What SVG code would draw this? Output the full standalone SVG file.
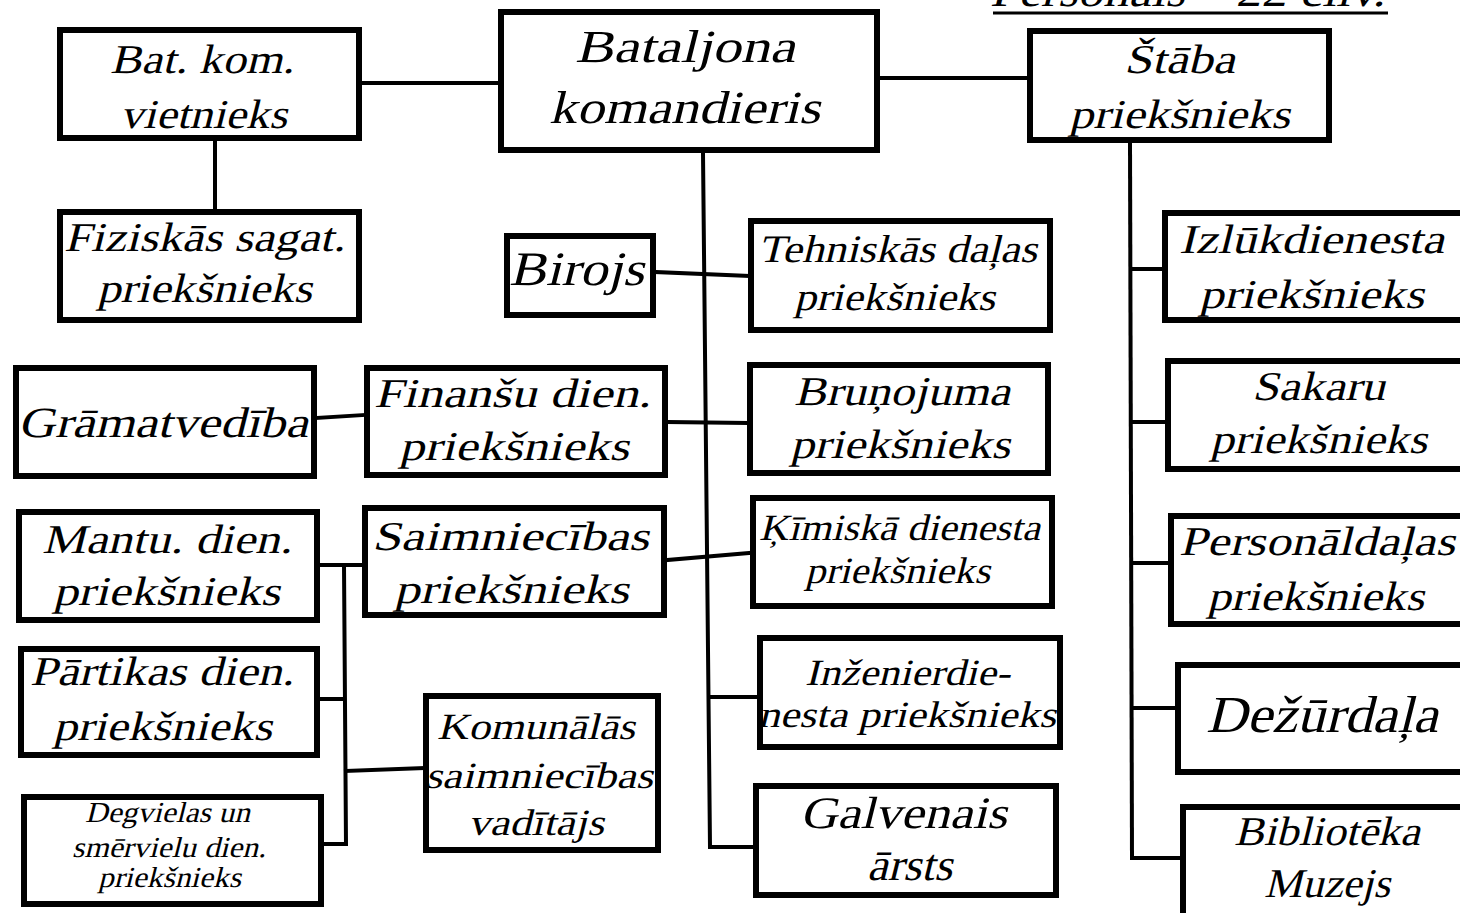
<svg xmlns="http://www.w3.org/2000/svg" width="1460" height="913" viewBox="0 0 1460 913">
<style>
.box{fill:#fff;stroke:#000;stroke-width:6;stroke-linejoin:miter}
.t{font-family:'Liberation Serif','DejaVu Serif',serif;font-style:normal;font-weight:normal;fill:#000;font-size:41px}
.c{fill:none;stroke:#000;stroke-width:4;stroke-linecap:square}
</style>
<rect width="1460" height="913" fill="#fff"/>
<g id="header">
<text class="t" x="990" y="6" transform="translate(1.5,0) skewX(-14.04)" textLength="395" lengthAdjust="spacingAndGlyphs" style="font-size:44px">Personāls – 22 cilv.</text>
<line x1="993" y1="13" x2="1388" y2="13" stroke="#000" stroke-width="3"/>
</g>
<g id="connectors">
<line class="c" x1="362" y1="83" x2="498" y2="83"/>
<line class="c" x1="880" y1="78" x2="1027" y2="78"/>
<line class="c" x1="215" y1="141" x2="215" y2="209"/>
<polyline class="c" points="703,153 708,650 710,847 753,847"/>
<line class="c" x1="710" y1="697" x2="757" y2="697"/>
<line class="c" x1="656" y1="272" x2="748" y2="276"/>
<line class="c" x1="668" y1="422" x2="747" y2="423"/>
<line class="c" x1="667" y1="560" x2="750" y2="553"/>
<line class="c" x1="317" y1="418" x2="364" y2="415"/>
<line class="c" x1="320" y1="565" x2="362" y2="565"/>
<polyline class="c" points="344,565 346,844 324,844"/>
<line class="c" x1="320" y1="699" x2="344" y2="699"/>
<line class="c" x1="346" y1="771" x2="423" y2="768"/>
<line class="c" x1="1130" y1="143" x2="1132" y2="858"/>
<line class="c" x1="1132" y1="269" x2="1162" y2="269"/>
<line class="c" x1="1132" y1="422" x2="1165" y2="422"/>
<line class="c" x1="1132" y1="563" x2="1168" y2="563"/>
<line class="c" x1="1132" y1="708" x2="1175" y2="708"/>
<line class="c" x1="1132" y1="858" x2="1180" y2="858"/>
</g>
<g id="batkom"><rect class="box" x="60" y="30" width="299" height="108"/>
<text class="t" x="110" y="73" transform="translate(18.25,0) skewX(-14.04)" textLength="184" lengthAdjust="spacingAndGlyphs">Bat. kom.</text>
<text class="t" x="120" y="128" transform="translate(32,0) skewX(-14.04)" textLength="167" lengthAdjust="spacingAndGlyphs">vietnieks</text></g>
<g id="batcmd"><rect class="box" x="501" y="12" width="376" height="138"/>
<text class="t" x="575" y="62" transform="translate(15.5,0) skewX(-14.04)" textLength="220" lengthAdjust="spacingAndGlyphs" style="font-size:46px">Bataljona</text>
<text class="t" x="549" y="123" transform="translate(30.75,0) skewX(-14.04)" textLength="271" lengthAdjust="spacingAndGlyphs" style="font-size:46px">komandieris</text></g>
<g id="staba"><rect class="box" x="1030" y="31" width="299" height="109"/>
<text class="t" x="1124" y="73" transform="translate(18.25,0) skewX(-14.04)" textLength="111" lengthAdjust="spacingAndGlyphs">Štāba</text>
<text class="t" x="1069" y="128" transform="translate(32,0) skewX(-14.04)" textLength="221" lengthAdjust="spacingAndGlyphs">priekšnieks</text></g>
<g id="fiz"><rect class="box" x="60" y="212" width="299" height="108"/>
<text class="t" x="64" y="251" transform="translate(62.75,0) skewX(-14.04)" textLength="281" lengthAdjust="spacingAndGlyphs">Fiziskās sagat.</text>
<text class="t" x="97" y="302" transform="translate(75.5,0) skewX(-14.04)" textLength="215" lengthAdjust="spacingAndGlyphs">priekšnieks</text></g>
<g id="birojs"><rect class="box" x="507" y="236" width="146" height="79"/>
<text class="t" x="509" y="285" transform="translate(71.25,0) skewX(-14.04)" textLength="135" lengthAdjust="spacingAndGlyphs" style="font-size:48px">Birojs</text></g>
<g id="tehn"><rect class="box" x="751" y="221" width="299" height="109"/>
<text class="t" x="758" y="262" transform="translate(65.5,0) skewX(-14.04)" textLength="279" lengthAdjust="spacingAndGlyphs" style="font-size:39px">Tehniskās daļas</text>
<text class="t" x="794" y="310" transform="translate(77.5,0) skewX(-14.04)" textLength="201" lengthAdjust="spacingAndGlyphs" style="font-size:39px">priekšnieks</text></g>
<g id="brun"><rect class="box" x="750" y="365" width="298" height="108"/>
<text class="t" x="794" y="405" transform="translate(101.25,0) skewX(-14.04)" textLength="216" lengthAdjust="spacingAndGlyphs">Bruņojuma</text>
<text class="t" x="790" y="458" transform="translate(114.5,0) skewX(-14.04)" textLength="220" lengthAdjust="spacingAndGlyphs">priekšnieks</text></g>
<g id="kim"><rect class="box" x="753" y="498" width="299" height="108"/>
<text class="t" x="759" y="540" transform="translate(135,0) skewX(-14.04)" textLength="281" lengthAdjust="spacingAndGlyphs" style="font-size:37px">Ķīmiskā dienesta</text>
<text class="t" x="805" y="583" transform="translate(145.75,0) skewX(-14.04)" textLength="185" lengthAdjust="spacingAndGlyphs" style="font-size:37px">priekšnieks</text></g>
<g id="inz"><rect class="box" x="760" y="638" width="300" height="109"/>
<text class="t" x="805" y="685" transform="translate(171.25,0) skewX(-14.04)" textLength="205" lengthAdjust="spacingAndGlyphs" style="font-size:37px">Inženierdie-</text>
<text class="t" x="758" y="727" transform="translate(181.75,0) skewX(-14.04)" textLength="298" lengthAdjust="spacingAndGlyphs" style="font-size:37px">nesta priekšnieks</text></g>
<g id="galv"><rect class="box" x="756" y="786" width="300" height="109"/>
<text class="t" x="800" y="828" transform="translate(207,0) skewX(-14.04)" textLength="207" lengthAdjust="spacingAndGlyphs" style="font-size:45px">Galvenais</text>
<text class="t" x="867" y="880" transform="translate(220,0) skewX(-14.04)" textLength="85" lengthAdjust="spacingAndGlyphs" style="font-size:45px">ārsts</text></g>
<g id="gram"><rect class="box" x="16" y="368" width="298" height="108"/>
<text class="t" x="18" y="437" transform="translate(109.25,0) skewX(-14.04)" textLength="290" lengthAdjust="spacingAndGlyphs" style="font-size:43px">Grāmatvedība</text></g>
<g id="fin"><rect class="box" x="367" y="368" width="298" height="107"/>
<text class="t" x="374" y="407" transform="translate(101.75,0) skewX(-14.04)" textLength="277" lengthAdjust="spacingAndGlyphs">Finanšu dien.</text>
<text class="t" x="399" y="460" transform="translate(115,0) skewX(-14.04)" textLength="230" lengthAdjust="spacingAndGlyphs">priekšnieks</text></g>
<g id="mantu"><rect class="box" x="19" y="512" width="298" height="108"/>
<text class="t" x="42" y="553" transform="translate(138.25,0) skewX(-14.04)" textLength="250" lengthAdjust="spacingAndGlyphs">Mantu. dien.</text>
<text class="t" x="53" y="605" transform="translate(151.25,0) skewX(-14.04)" textLength="227" lengthAdjust="spacingAndGlyphs">priekšnieks</text></g>
<g id="saim"><rect class="box" x="365" y="508" width="299" height="107"/>
<text class="t" x="372" y="550" transform="translate(137.5,0) skewX(-14.04)" textLength="277" lengthAdjust="spacingAndGlyphs">Saimniecības</text>
<text class="t" x="394" y="603" transform="translate(150.75,0) skewX(-14.04)" textLength="235" lengthAdjust="spacingAndGlyphs">priekšnieks</text></g>
<g id="part"><rect class="box" x="21" y="649" width="296" height="106"/>
<text class="t" x="30" y="685" transform="translate(171.25,0) skewX(-14.04)" textLength="264" lengthAdjust="spacingAndGlyphs">Pārtikas dien.</text>
<text class="t" x="53" y="740" transform="translate(185,0) skewX(-14.04)" textLength="219" lengthAdjust="spacingAndGlyphs">priekšnieks</text></g>
<g id="kom"><rect class="box" x="426" y="696" width="232" height="154"/>
<text class="t" x="437" y="739" transform="translate(184.75,0) skewX(-14.04)" textLength="198" lengthAdjust="spacingAndGlyphs" style="font-size:37px">Komunālās</text>
<text class="t" x="425" y="788" transform="translate(197,0) skewX(-14.04)" textLength="228" lengthAdjust="spacingAndGlyphs" style="font-size:37px">saimniecības</text>
<text class="t" x="468" y="835" transform="translate(208.75,0) skewX(-14.04)" textLength="136" lengthAdjust="spacingAndGlyphs" style="font-size:37px">vadītājs</text></g>
<g id="degv"><rect class="box" x="24" y="797" width="297" height="107"/>
<text class="t" x="85" y="822" transform="translate(205.5,0) skewX(-14.04)" textLength="165" lengthAdjust="spacingAndGlyphs" style="font-size:29px">Degvielas un</text>
<text class="t" x="72" y="857" transform="translate(214.25,0) skewX(-14.04)" textLength="194" lengthAdjust="spacingAndGlyphs" style="font-size:29px">smērvielu dien.</text>
<text class="t" x="98" y="887" transform="translate(221.75,0) skewX(-14.04)" textLength="143" lengthAdjust="spacingAndGlyphs" style="font-size:29px">priekšnieks</text></g>
<g id="izluk"><rect class="box" x="1165" y="213" width="310" height="107"/>
<text class="t" x="1179" y="253" transform="translate(63.25,0) skewX(-14.04)" textLength="265" lengthAdjust="spacingAndGlyphs">Izlūkdienesta</text>
<text class="t" x="1199" y="308" transform="translate(77,0) skewX(-14.04)" textLength="225" lengthAdjust="spacingAndGlyphs">priekšnieks</text></g>
<g id="sakaru"><rect class="box" x="1168" y="361" width="310" height="108"/>
<text class="t" x="1252" y="400" transform="translate(100,0) skewX(-14.04)" textLength="133" lengthAdjust="spacingAndGlyphs">Sakaru</text>
<text class="t" x="1210" y="453" transform="translate(113.25,0) skewX(-14.04)" textLength="217" lengthAdjust="spacingAndGlyphs">priekšnieks</text></g>
<g id="pers"><rect class="box" x="1171" y="516" width="310" height="108"/>
<text class="t" x="1179" y="555" transform="translate(138.75,0) skewX(-14.04)" textLength="276" lengthAdjust="spacingAndGlyphs">Personāldaļas</text>
<text class="t" x="1207" y="610" transform="translate(152.5,0) skewX(-14.04)" textLength="217" lengthAdjust="spacingAndGlyphs">priekšnieks</text></g>
<g id="dez"><rect class="box" x="1178" y="665" width="310" height="107"/>
<text class="t" x="1206" y="732" transform="translate(183,0) skewX(-14.04)" textLength="232" lengthAdjust="spacingAndGlyphs" style="font-size:52px">Dežūrdaļa</text></g>
<g id="bibl"><rect class="box" x="1183" y="807" width="310" height="150"/>
<text class="t" x="1234" y="845" transform="translate(211.25,0) skewX(-14.04)" textLength="186" lengthAdjust="spacingAndGlyphs">Bibliotēka</text>
<text class="t" x="1264" y="897" transform="translate(224.25,0) skewX(-14.04)" textLength="126" lengthAdjust="spacingAndGlyphs">Muzejs</text></g>
</svg>
